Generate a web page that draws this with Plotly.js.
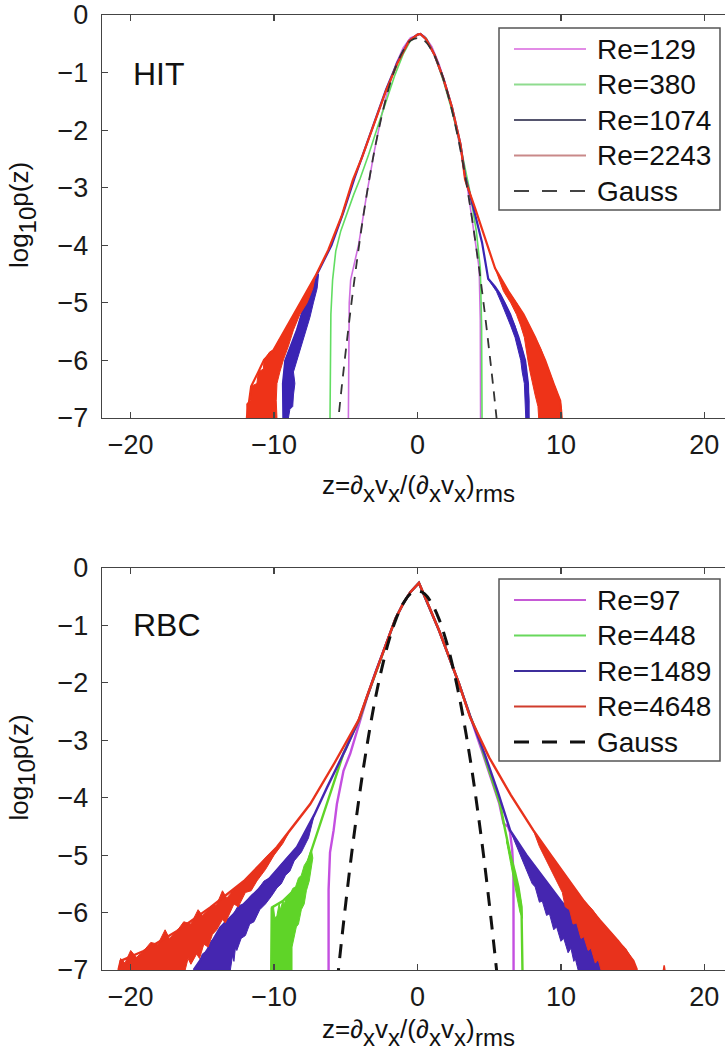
<!DOCTYPE html>
<html><head><meta charset="utf-8">
<script src="https://cdn.plot.ly/plotly-3.0.1.min.js"></script>
<style>html,body{margin:0;padding:0;overflow:hidden;background:#fff}#chart{width:735px;height:1060px}</style>
</head><body><div id="chart"></div>
<script>
// ---------- tick labels / legend text / titles ----------
const xTicks = [-20, -10, 0, 10, 20];
const yTicks = [0, -1, -2, -3, -4, -5, -6, -7];
const hitLabels = ["Re=129", "Re=380", "Re=1074", "Re=2243", "Gauss"];
const rbcLabels = ["Re=97", "Re=448", "Re=1489", "Re=4648", "Gauss"];
const panelNames = ["HIT", "RBC"];
const xTitleParts = ["z=∂", "x", "v", "x", "/(∂", "x", "v", "x", ")", "rms"];
const xTitleSub   = [0, 1, 0, 1, 0, 1, 0, 1, 0, 1];
const yTitleParts = ["log", "10", "p(z)"];
const yTitleSub   = [0, 1, 0];

// ---------- Gauss reference ----------
const gaussZ = [-5.6,-5.3,-5.0,-4.6,-4.2,-3.8,-3.4,-3.0,-2.5,-2.0,-1.5,-1.0,-0.5,0,0.5,1.0,1.5,2.0,2.5,3.0,3.4,3.8,4.2,4.6,5.0,5.3,5.6];
const gaussP = [-7.21,-6.50,-5.83,-4.99,-4.23,-3.53,-2.91,-2.35,-1.76,-1.27,-0.89,-0.62,-0.45,-0.40,-0.45,-0.62,-0.89,-1.27,-1.76,-2.35,-2.91,-3.53,-4.23,-4.99,-5.83,-6.50,-7.21];

// ---------- HIT panel ----------
const hit129Z = [-4.82,-4.80,-4.76,-4.66,-4.45,-4.10,-3.50,-3.00,-2.50,-2.00,-1.50,-1.00,-0.50,0.00,0.20,0.50,1.00,1.50,2.00,2.50,3.00,3.50,4.00,4.30,4.38,4.40];
const hit129P = [-7.00,-6.00,-5.00,-4.60,-4.35,-3.98,-3.05,-2.35,-1.74,-1.24,-0.85,-0.57,-0.40,-0.34,-0.33,-0.37,-0.55,-0.85,-1.24,-1.73,-2.33,-3.03,-3.84,-4.40,-5.30,-7.00];

const hit380Z = [-6.10,-6.08,-6.04,-5.92,-5.70,-5.35,-4.92,-4.45,-4.00,-3.40,-2.80,-2.20,-1.60,-1.00,-0.50,0.00,0.20,0.60,1.20,1.80,2.40,3.00,3.60,4.10,4.38,4.47,4.50];
const hit380P = [-7.00,-6.00,-5.20,-4.60,-4.10,-3.75,-3.44,-3.12,-2.84,-2.42,-1.96,-1.50,-1.06,-0.68,-0.45,-0.34,-0.33,-0.40,-0.70,-1.14,-1.66,-2.28,-3.00,-3.75,-4.40,-5.40,-7.00];

const hit1074Z = [-9.35,-9.38,-9.22,-8.80,-8.40,-7.83,-7.00,-6.00,-5.20,-4.40,-3.80,-3.00,-2.20,-1.40,-0.60,0.00,0.20,0.60,1.20,1.80,2.40,3.00,3.32,3.90,4.50,4.93,5.40,5.76,6.46,7.04,7.50,7.70,7.75];
const hit1074P = [-7.00,-6.40,-6.00,-5.72,-5.47,-5.00,-4.50,-4.00,-3.45,-2.84,-2.42,-1.85,-1.30,-0.82,-0.45,-0.34,-0.33,-0.42,-0.70,-1.10,-1.60,-2.25,-2.80,-3.35,-3.95,-4.58,-4.72,-4.85,-5.20,-5.60,-6.00,-6.40,-7.00];
const hit1074LeftBandZ = [-6.90,-7.50,-7.83,-8.10,-8.40,-8.80,-9.00,-9.22,-9.30,-9.38,-9.35,-9.00,-8.90,-8.70,-8.65,-8.55,-8.65,-8.40,-8.10,-7.80,-7.50,-7.26,-7.00,-6.90];
const hit1074LeftBandP = [-4.50,-4.80,-5.00,-5.20,-5.47,-5.72,-5.85,-6.00,-6.20,-6.40,-7.00,-7.00,-6.85,-6.80,-6.60,-6.40,-6.20,-5.99,-5.75,-5.47,-5.25,-5.00,-4.75,-4.50];
const hit1074RightBandZ = [4.90,5.40,5.76,6.10,6.46,6.80,7.04,7.30,7.50,7.62,7.70,7.78,7.75,7.55,7.50,7.45,7.30,7.20,7.00,6.80,6.50,6.20,5.85,5.50,4.90];
const hit1074RightBandP = [-4.58,-4.72,-4.85,-5.00,-5.20,-5.40,-5.60,-5.80,-6.00,-6.20,-6.40,-6.70,-7.00,-7.00,-6.70,-6.40,-6.20,-6.00,-5.80,-5.60,-5.40,-5.20,-5.00,-4.80,-4.58];

const hit2243Z = [-11.90,-11.75,-11.60,-11.10,-10.70,-10.04,-9.22,-8.17,-7.13,-6.22,-5.30,-4.50,-3.85,-3.00,-2.20,-1.40,-0.60,0.00,0.20,0.60,1.20,1.80,2.40,3.00,3.32,4.02,4.72,5.41,6.34,7.39,8.20,8.90,9.48,9.95,10.05];
const hit2243P = [-7.00,-6.70,-6.45,-6.20,-5.99,-5.82,-5.47,-5.00,-4.54,-4.08,-3.50,-2.86,-2.46,-1.88,-1.32,-0.84,-0.45,-0.34,-0.33,-0.42,-0.70,-1.10,-1.60,-2.25,-2.86,-3.36,-3.88,-4.40,-4.80,-5.20,-5.60,-6.00,-6.40,-6.70,-7.00];
const hit2243LeftBandZ = [-7.13,-7.60,-8.17,-8.70,-9.22,-9.60,-10.04,-10.30,-10.70,-10.75,-11.10,-11.20,-11.60,-11.65,-11.90,-11.90,-9.80,-9.85,-9.80,-9.60,-9.35,-9.00,-8.65,-8.20,-7.70,-7.30,-7.13];
const hit2243LeftBandP = [-4.54,-4.78,-5.00,-5.25,-5.47,-5.62,-5.82,-5.85,-5.99,-6.15,-6.20,-6.40,-6.45,-6.70,-6.75,-7.00,-7.00,-6.70,-6.40,-6.20,-5.99,-5.75,-5.47,-5.20,-5.00,-4.75,-4.54];
const hit2243RightBandZ = [5.41,6.34,6.90,7.39,7.80,8.20,8.60,8.90,9.20,9.48,9.70,9.95,10.05,10.05,8.45,8.40,8.20,8.00,7.85,7.70,7.60,7.45,7.20,6.90,6.50,6.00,5.41];
const hit2243RightBandP = [-4.40,-4.80,-5.00,-5.20,-5.40,-5.60,-5.80,-6.00,-6.20,-6.40,-6.55,-6.70,-6.85,-7.00,-7.00,-6.80,-6.60,-6.40,-6.20,-6.00,-5.80,-5.60,-5.40,-5.20,-5.00,-4.80,-4.40];

// ---------- RBC panel ----------
const rbc97Z = [-6.20,-6.20,-6.10,-5.85,-5.62,-5.16,-4.69,-3.99,-3.50,-2.93,-2.20,-1.53,-1.00,-0.50,0.10,0.60,1.00,1.49,2.20,2.90,3.67,4.15,4.55,5.15,5.70,6.00,6.30,6.45,6.60,6.69,6.70];
const rbc97P = [-7.00,-5.60,-4.95,-4.57,-4.11,-3.53,-3.23,-2.65,-2.24,-1.83,-1.33,-0.88,-0.62,-0.42,-0.26,-0.55,-0.78,-1.08,-1.55,-2.02,-2.58,-2.92,-3.23,-3.68,-4.10,-4.45,-4.50,-4.60,-4.90,-5.30,-7.00];

const rbc448Z = [-10.20,-10.15,-9.40,-8.60,-7.94,-7.48,-6.90,-6.31,-5.70,-5.16,-4.55,-4.02,-3.50,-2.93,-2.20,-1.53,-1.00,-0.50,0.10,0.60,1.00,1.49,2.20,2.90,3.67,4.20,4.60,5.20,5.76,6.10,6.46,6.80,7.04,7.25,7.30,7.32];
const rbc448P = [-7.00,-5.91,-5.80,-5.60,-5.45,-4.98,-4.55,-4.11,-3.66,-3.23,-2.90,-2.62,-2.23,-1.83,-1.33,-0.88,-0.62,-0.42,-0.26,-0.55,-0.78,-1.08,-1.55,-2.02,-2.58,-2.90,-3.23,-3.68,-4.11,-4.55,-4.98,-5.30,-5.56,-5.90,-6.40,-7.00];
const rbc448LeftBandZ = [-10.20,-10.20,-10.05,-9.95,-9.80,-9.65,-9.55,-9.40,-9.30,-9.10,-8.90,-8.70,-8.50,-8.30,-8.10,-7.90,-7.70,-7.40,-7.30,-7.45,-7.55,-7.75,-7.90,-8.10,-8.30,-8.45,-8.60,-8.75,-8.75];
const rbc448LeftBandP = [-7.00,-5.92,-5.88,-6.10,-6.05,-5.85,-5.95,-5.80,-5.85,-5.72,-5.70,-5.58,-5.55,-5.40,-5.35,-5.18,-5.10,-4.90,-5.05,-5.30,-5.45,-5.62,-5.85,-5.95,-6.20,-6.25,-6.40,-6.60,-7.00];
const rbc448RightBandZ = [6.20,6.46,6.70,7.04,7.25,7.32,7.15,6.95,6.75,6.50,6.20];
const rbc448RightBandP = [-4.75,-4.98,-5.20,-5.56,-5.85,-6.10,-6.00,-5.75,-5.45,-5.15,-4.75];

const rbc1489Z = [-15.60,-14.70,-13.75,-12.10,-10.26,-8.40,-7.20,-6.31,-5.00,-4.05,-3.50,-2.93,-2.20,-1.53,-1.00,-0.50,0.10,0.60,1.00,1.49,2.20,2.90,3.67,4.70,5.60,6.46,7.60,8.78,10.00,11.10,12.00,12.73,12.90];
const rbc1489P = [-7.00,-6.67,-6.26,-5.85,-5.39,-4.86,-4.30,-3.82,-3.15,-2.62,-2.22,-1.82,-1.33,-0.88,-0.62,-0.42,-0.26,-0.55,-0.78,-1.08,-1.55,-2.02,-2.58,-3.25,-3.90,-4.57,-5.00,-5.39,-5.80,-6.14,-6.45,-6.74,-7.00];
const rbc1489LeftBandZ = [-7.20,-7.60,-8.40,-9.30,-10.26,-10.70,-11.20,-11.60,-12.10,-12.50,-12.90,-13.40,-13.75,-14.10,-14.40,-14.70,-15.00,-15.20,-15.60,-13.05,-12.90,-12.80,-12.70,-12.60,-12.30,-12.00,-11.70,-11.40,-11.00,-10.60,-10.20,-9.80,-9.50,-9.20,-8.90,-8.60,-8.10,-7.60,-7.20];
const rbc1489LeftBandP = [-4.30,-4.52,-4.86,-5.10,-5.39,-5.45,-5.62,-5.70,-5.85,-5.88,-6.05,-6.15,-6.26,-6.42,-6.50,-6.67,-6.72,-6.85,-7.00,-7.00,-6.75,-6.85,-6.62,-6.66,-6.45,-6.40,-6.20,-6.16,-5.95,-5.85,-5.72,-5.57,-5.50,-5.35,-5.28,-5.10,-4.95,-4.70,-4.30];
const rbc1489RightBandZ = [6.46,7.60,8.78,9.40,10.00,10.60,11.10,11.60,12.00,12.40,12.73,12.90,11.20,11.00,10.90,10.70,10.50,10.20,10.00,9.70,9.50,9.20,9.00,8.70,8.50,8.20,8.00,7.50,7.00,6.46];
const rbc1489RightBandP = [-4.57,-5.00,-5.39,-5.60,-5.80,-5.95,-6.14,-6.30,-6.45,-6.60,-6.74,-7.00,-7.00,-6.80,-6.85,-6.62,-6.70,-6.45,-6.50,-6.25,-6.30,-6.02,-6.05,-5.80,-5.82,-5.55,-5.50,-5.20,-4.90,-4.57];

const rbc4648Z = [-20.85,-20.70,-19.10,-16.77,-14.45,-12.10,-9.80,-7.48,-5.80,-4.11,-3.50,-2.93,-2.20,-1.53,-1.00,-0.50,0.10,0.60,1.00,1.49,2.20,2.90,3.67,5.00,6.50,8.08,9.30,10.41,11.60,12.73,14.00,15.05,15.30];
const rbc4648P = [-7.00,-6.84,-6.67,-6.32,-5.91,-5.45,-4.86,-4.11,-3.40,-2.65,-2.22,-1.82,-1.33,-0.88,-0.62,-0.42,-0.26,-0.55,-0.78,-1.08,-1.55,-2.02,-2.60,-3.30,-3.95,-4.57,-5.00,-5.39,-5.80,-6.14,-6.50,-6.84,-7.00];
const rbc4648LeftBandZ = [-9.00,-9.80,-10.50,-11.30,-12.10,-12.80,-13.30,-13.60,-14.00,-14.45,-15.00,-15.30,-15.80,-16.30,-16.77,-17.30,-17.60,-18.10,-18.60,-19.10,-19.60,-20.00,-20.40,-20.70,-20.85,-16.20,-16.00,-15.80,-15.40,-15.20,-14.90,-14.60,-14.30,-14.00,-13.60,-13.40,-12.80,-12.50,-12.00,-11.60,-11.20,-10.60,-10.00,-9.40,-9.00];
const rbc4648LeftBandP = [-4.62,-4.86,-5.02,-5.25,-5.45,-5.60,-5.75,-5.62,-5.86,-5.91,-6.05,-5.95,-6.20,-6.16,-6.32,-6.45,-6.30,-6.55,-6.52,-6.67,-6.78,-6.66,-6.88,-6.80,-7.00,-7.00,-6.80,-6.90,-6.72,-6.80,-6.55,-6.60,-6.38,-6.30,-6.12,-6.18,-5.85,-5.90,-5.65,-5.62,-5.45,-5.25,-5.00,-4.80,-4.62];
const rbc4648RightBandZ = [8.08,9.30,10.41,11.00,11.60,12.20,12.73,13.40,14.00,14.50,15.05,15.30,12.80,12.60,12.40,12.10,11.90,11.60,11.40,11.10,10.85,10.60,10.30,10.10,9.60,9.00,8.50,8.08];
const rbc4648RightBandP = [-4.57,-5.00,-5.39,-5.58,-5.80,-5.95,-6.14,-6.32,-6.50,-6.62,-6.84,-7.00,-7.00,-6.82,-6.88,-6.62,-6.66,-6.42,-6.45,-6.18,-6.20,-5.95,-5.90,-5.65,-5.39,-5.10,-4.85,-4.57];
const rbc4648SpikeZ = [17.15, 17.20, 17.25];
const rbc4648SpikeP = [-7.00, -6.92, -7.00];

// ---------- styling ----------
const hitColors = ["#cf6fe0", "#62dd62", "#3a24b4", "#ee3318"];
const rbcColors = ["#c44fe0", "#5fd428", "#4526b0", "#e8321c"];
const hitLegendColors = ["#e28ce6", "#8fdc8f", "#55556e", "#c98989", "#444444"];
const rbcLegendColors = ["#c65ad6", "#68d85c", "#3d2e9c", "#d03c2c", "#111111"];
const FONT = "Liberation Sans, Arial, Helvetica, sans-serif";

function lineTrace(z, p, color, width, ax, extra) {
  return Object.assign({x: z, y: p, mode: "lines", type: "scatter", hoverinfo: "skip",
    line: {color: color, width: width}, xaxis: ax[0], yaxis: ax[1]}, extra || {});
}
function bandTrace(z, p, color, ax) {
  return {x: z, y: p, mode: "lines", type: "scatter", hoverinfo: "skip", fill: "toself",
    fillcolor: color, line: {color: color, width: 1}, xaxis: ax[0], yaxis: ax[1]};
}

const A1 = ["x", "y"], A2 = ["x2", "y2"];
const traces = [
  lineTrace(hit129Z, hit129P, hitColors[0], 1.6, A1),
  lineTrace(hit380Z, hit380P, hitColors[1], 1.6, A1),
  bandTrace(hit1074LeftBandZ, hit1074LeftBandP, hitColors[2], A1),
  bandTrace(hit1074RightBandZ, hit1074RightBandP, hitColors[2], A1),
  lineTrace(hit1074Z, hit1074P, hitColors[2], 2.2, A1),
  bandTrace(hit2243LeftBandZ, hit2243LeftBandP, hitColors[3], A1),
  bandTrace(hit2243RightBandZ, hit2243RightBandP, hitColors[3], A1),
  lineTrace(hit2243Z, hit2243P, hitColors[3], 2.2, A1),
  lineTrace(gaussZ, gaussP, "#333333", 1.8, A1, {line: {color: "#333333", width: 1.8, dash: "10px,8px", shape: "spline"}}),

  lineTrace(rbc97Z, rbc97P, rbcColors[0], 2.4, A2),
  bandTrace(rbc448LeftBandZ, rbc448LeftBandP, rbcColors[1], A2),
  bandTrace(rbc448RightBandZ, rbc448RightBandP, rbcColors[1], A2),
  lineTrace(rbc448Z, rbc448P, rbcColors[1], 2.4, A2),
  bandTrace(rbc1489LeftBandZ, rbc1489LeftBandP, rbcColors[2], A2),
  bandTrace(rbc1489RightBandZ, rbc1489RightBandP, rbcColors[2], A2),
  lineTrace(rbc1489Z, rbc1489P, rbcColors[2], 2.4, A2),
  bandTrace(rbc4648LeftBandZ, rbc4648LeftBandP, rbcColors[3], A2),
  bandTrace(rbc4648RightBandZ, rbc4648RightBandP, rbcColors[3], A2),
  lineTrace(rbc4648Z, rbc4648P, rbcColors[3], 2.4, A2),
  lineTrace(rbc4648SpikeZ, rbc4648SpikeP, rbcColors[3], 1.5, A2),
  lineTrace(gaussZ, gaussP, "#111111", 3, A2, {line: {color: "#111111", width: 3, dash: "14px,10px", shape: "spline"}})
];

// ---------- layout geometry (pixels) ----------
const FIG_W = 735, FIG_H = 1060;
const M = {l: 102, r: 2, t: 15, b: 90};
const PW = FIG_W - M.l - M.r, PH = FIG_H - M.t - M.b;
const px2x = px => (px - M.l) / PW;
const py2y = py => 1 - (py - M.t) / PH;
const topPanel = [15, 418], botPanel = [568, 970];

function axisX(anchor) {
  return {anchor: anchor, domain: [0, 1], range: [-22, 22], tickvals: xTicks, ticks: "inside", ticklen: 6,
    tickwidth: 1.2, tickcolor: "#444", showline: true, linecolor: "#444", linewidth: 1.3, mirror: "ticks",
    showgrid: false, zeroline: false, tickfont: {family: FONT, size: 27, color: "#1a1a1a"}, ticklabelstandoff: 2};
}
function axisY(anchor, pix) {
  return {anchor: anchor, domain: [py2y(pix[1]), py2y(pix[0])], range: [-7, 0], tickvals: yTicks, ticks: "inside",
    ticklen: 6, tickwidth: 1.2, tickcolor: "#444", showline: true, linecolor: "#444", linewidth: 1.3, mirror: "ticks",
    showgrid: false, zeroline: false, tickfont: {family: FONT, size: 27, color: "#1a1a1a"}, ticklabelstandoff: 7};
}

const shapes = [], annotations = [];
function addLegend(boxTop, labels, colors, dashSpec, dashWidth) {
  shapes.push({type: "rect", xref: "paper", yref: "paper", x0: px2x(499), x1: px2x(720),
    y0: py2y(boxTop), y1: py2y(boxTop + 182), line: {color: "#555", width: 1.5}, fillcolor: "rgba(255,255,255,1)", layer: "above"});
  labels.forEach((lab, i) => {
    const yy = boxTop + 21 + i * 35.5;
    const isG = i === labels.length - 1;
    shapes.push({type: "line", xref: "paper", yref: "paper", x0: px2x(514), x1: px2x(586), y0: py2y(yy), y1: py2y(yy),
      line: {color: colors[i], width: isG ? dashWidth : 2.2, dash: isG ? dashSpec : "solid"}, layer: "above"});
    annotations.push({xref: "paper", yref: "paper", x: px2x(595), y: py2y(yy), xanchor: "left", yanchor: "middle",
      text: lab, showarrow: false, font: {family: FONT, size: 28, color: "#111"}});
  });
}
addLegend(28, hitLabels, hitLegendColors, "15px,13px", 2);
addLegend(579, rbcLabels, rbcLegendColors, "15px,13px", 3);

annotations.push({xref: "paper", yref: "paper", x: px2x(131), y: py2y(74), xanchor: "left", yanchor: "middle",
  text: panelNames[0], showarrow: false, font: {family: FONT, size: 32, color: "#111"}});
annotations.push({xref: "paper", yref: "paper", x: px2x(131), y: py2y(625), xanchor: "left", yanchor: "middle",
  text: panelNames[1], showarrow: false, font: {family: FONT, size: 32, color: "#111"}});

// axis titles built from pieces so that subscripts keep nearly full size (as in the source figure)
const ctx = document.createElement("canvas").getContext("2d");
function textWidth(s, size) { ctx.font = size + "px 'Liberation Sans', Arial, sans-serif"; return ctx.measureText(s).width; }
const MAIN_SIZE = 26, SUB_SIZE = 24, SUB_SHIFT = 8;

function addXTitle(centerPx, midPy) {
  const sizes = xTitleParts.map((s, i) => xTitleSub[i] ? SUB_SIZE : MAIN_SIZE);
  const widths = xTitleParts.map((s, i) => textWidth(s, sizes[i]));
  const total = widths.reduce((a, b) => a + b, 0);
  let cur = centerPx - total / 2;
  xTitleParts.forEach((s, i) => {
    annotations.push({xref: "paper", yref: "paper", x: px2x(cur), y: py2y(midPy + (xTitleSub[i] ? SUB_SHIFT : 0)),
      xanchor: "left", yanchor: "middle", borderpad: 0, text: s, showarrow: false,
      font: {family: FONT, size: sizes[i], color: "#111"}});
    cur += widths[i];
  });
}
function addYTitle(midPx, centerPy) {
  const sizes = yTitleParts.map((s, i) => yTitleSub[i] ? SUB_SIZE : MAIN_SIZE);
  const widths = yTitleParts.map((s, i) => textWidth(s, sizes[i]));
  const total = widths.reduce((a, b) => a + b, 0);
  let cur = centerPy + total / 2;
  yTitleParts.forEach((s, i) => {
    annotations.push({xref: "paper", yref: "paper", x: px2x(midPx + (yTitleSub[i] ? SUB_SHIFT : 0)), y: py2y(cur),
      xanchor: "center", yanchor: "bottom", borderpad: 0, textangle: -90, text: s, showarrow: false,
      font: {family: FONT, size: sizes[i], color: "#111"}});
    cur -= widths[i];
  });
}
addYTitle(19, (topPanel[0] + topPanel[1]) / 2);
addYTitle(19, (botPanel[0] + botPanel[1]) / 2);
addXTitle(417.5, 485);
addXTitle(417.5, 1029);

const layout = {
  width: FIG_W, height: FIG_H, margin: M, paper_bgcolor: "#fff", plot_bgcolor: "#fff", showlegend: false,
  font: {family: FONT, size: 26, color: "#111"},
  xaxis: axisX("y"), yaxis: axisY("x", topPanel),
  xaxis2: axisX("y2"), yaxis2: axisY("x2", botPanel),
  shapes: shapes, annotations: annotations
};
Plotly.newPlot("chart", traces, layout, {staticPlot: true, displayModeBar: false});
</script></body></html>
